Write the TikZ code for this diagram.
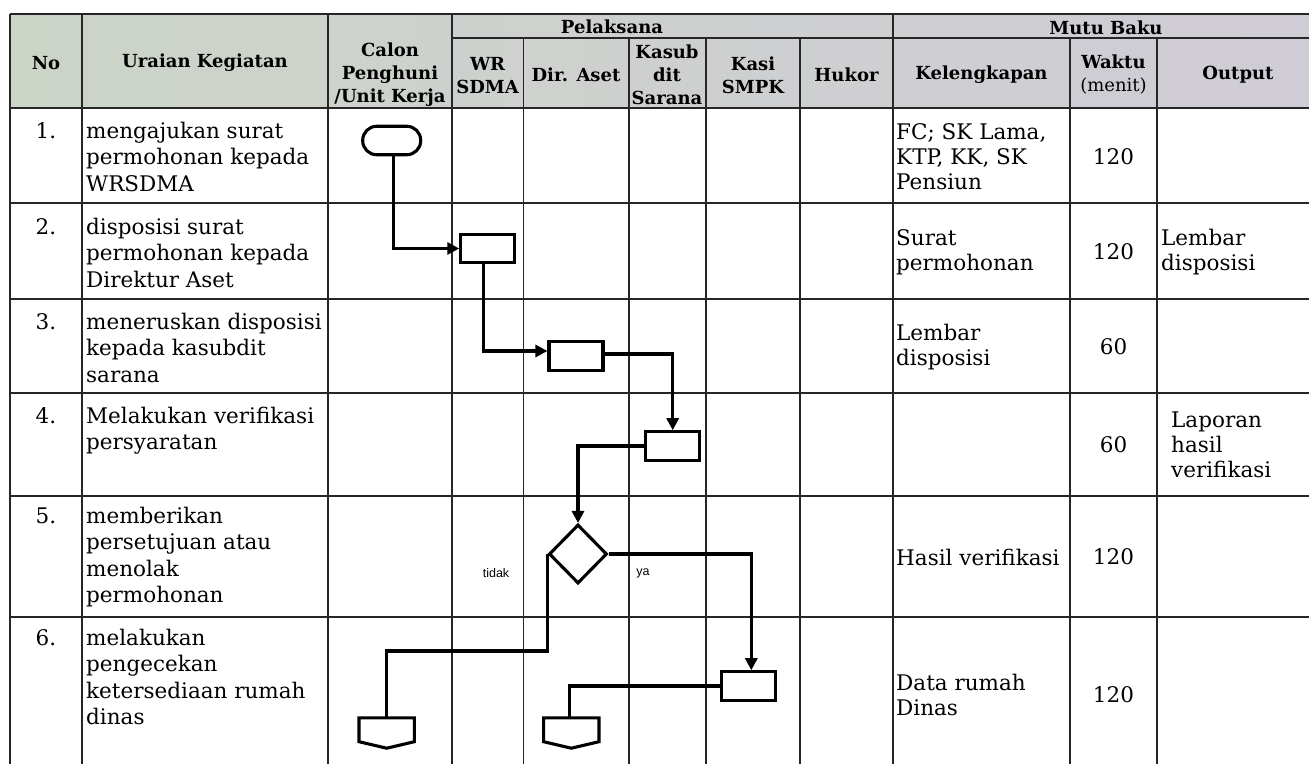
\documentclass[tikz,border=0pt]{standalone}
\usepackage{fontspec}
\setmainfont{DejaVu Serif}
\newfontfamily\labfont{Liberation Sans}
\usetikzlibrary{arrows.meta,shapes.geometric,calc}
\definecolor{hdA}{RGB}{204,212,200}
\definecolor{hdB}{RGB}{216,200,218}
\definecolor{hdC}{RGB}{208,204,214}
\begin{document}
\begin{tikzpicture}[x=1pt,y=-1pt,
  gridl/.style={line width=1.6pt, draw=black!85},
  hd/.style={font=\bfseries\fontsize{18}{23}\selectfont, align=center, inner sep=0pt},
  bodytxt/.style={font=\fontsize{21.5}{26.5}\selectfont, align=left, inner sep=0pt, anchor=base west},
  midtxt/.style={font=\fontsize{21.5}{25}\selectfont, align=left, inner sep=0pt, anchor=west},
  numtxt/.style={font=\fontsize{21.5}{26.5}\selectfont, inner sep=0pt, anchor=base},
  ctrtxt/.style={font=\fontsize{21.5}{25}\selectfont, inner sep=0pt, anchor=center},
  proc/.style={draw, fill=white, line width=3.1pt, minimum width=54pt, minimum height=28.5pt, inner sep=0pt},
  term/.style={proc, rounded corners=14pt, minimum width=58pt},
  dec/.style={draw, fill=white, diamond, line width=3.1pt, minimum width=58pt, minimum height=59pt, inner sep=0pt},
  offp/.style={minimum width=55pt, minimum height=30pt, inner sep=0pt},
  flow/.style={line width=3.1pt, line join=miter},
  arr/.style={flow, -{Triangle[length=12pt,width=12pt]}},
  lbl/.style={font=\labfont\fontsize{12.5}{14}\selectfont, inner sep=0pt}
]
\useasboundingbox (0,0) rectangle (1309,763);
\begin{scope}
\clip (0,0) rectangle (1309,763);
% header shading
\shade[left color=hdA, middle color=hdB, right color=hdC] (10,14) rectangle (1319,108);
% horizontal lines
\foreach \yy in {14,108,203,299,393,496,617,773}
  \draw[gridl] (10,\yy) -- (1319,\yy);
\draw[gridl] (451.7,37.7) -- (1319,37.7);
\draw[gridl, line width=2pt] (10,108) -- (1319,108);
% vertical lines
\foreach \xx in {10,81.7,328,451.7,893,1319}
  \draw[gridl] (\xx,14) -- (\xx,773);
\foreach \xx in {523.5,629,705.7,800,1070,1157}
  \draw[gridl] (\xx,37.7) -- (\xx,773);
\end{scope}

% header texts
\node[hd] (hNo) at (46,63) {No};
\node[hd] (hUr) at (205,63) {Uraian Kegiatan};
\node[hd] (hPel) at (612,26.5) {Pelaksana};
\node[hd] (hMutu) at (1106,27.5) {Mutu Baku};
\node[hd] (hCal) at (390,74.5) {Calon\\Penghuni\\/Unit Kerja};
\node[hd] (hWR) at (487.6,75.3) {WR\\SDMA};
\node[hd] (hDir) at (576,75) {Dir. Aset};
\node[hd] (hKasub) at (667,75) {Kasub\\dit\\Sarana};
\node[hd] (hKasi) at (753,75) {Kasi\\SMPK};
\node[hd] (hHuk) at (846.5,75) {Hukor};
\node[hd] (hKel) at (981.5,75) {Kelengkapan};
\node[hd] (hWak) at (1113.5,75) {Waktu\\{\mdseries\fontsize{18}{23}\selectfont (menit)}};
\node[hd] (hOut) at (1238,75) {Output};

% numbers
\node[numtxt] (n1) at (46,138) {1.};
\node[numtxt] (n2) at (46,234) {2.};
\node[numtxt] (n3) at (46,329) {3.};
\node[numtxt] (n4) at (46,423) {4.};
\node[numtxt] (n5) at (46,523) {5.};
\node[numtxt] (n6) at (46,645) {6.};

% uraian (anchor = baseline of last line)
\node[bodytxt] (u1) at (86,191) {mengajukan surat\\permohonan kepada\\WRSDMA};
\node[bodytxt] (u2) at (86,287) {disposisi surat\\permohonan kepada\\Direktur Aset};
\node[bodytxt] (u3) at (86,382) {meneruskan disposisi\\kepada kasubdit\\sarana};
\node[bodytxt] (u4) at (86,449.5) {Melakukan verifikasi\\persyaratan};
\node[bodytxt] (u5) at (86,602.5) {memberikan\\persetujuan atau\\menolak\\permohonan};
\node[bodytxt] (u6) at (86,724.5) {melakukan\\pengecekan\\ketersediaan rumah\\dinas};

% kelengkapan
\node[midtxt] (k1) at (896,157) {FC; SK Lama,\\KTP, KK, SK\\Pensiun};
\node[midtxt] (k2) at (896,252) {Surat\\permohonan};
\node[midtxt] (k3) at (896,347) {Lembar\\disposisi};
\node[midtxt] (k5) at (896,557) {Hasil verifikasi};
\node[midtxt] (k6) at (896,695) {Data rumah\\Dinas};

% waktu
\node[ctrtxt] (w1) at (1113.5,157) {120};
\node[ctrtxt] (w2) at (1113.5,252) {120};
\node[ctrtxt] (w3) at (1113.5,347) {60};
\node[ctrtxt] (w4) at (1113.5,445) {60};
\node[ctrtxt] (w5) at (1113.5,557) {120};
\node[ctrtxt] (w6) at (1113.5,695) {120};

% output
\node[midtxt] (o2t) at (1161,252) {Lembar\\disposisi};
\node[midtxt] (o4t) at (1171,445) {Laporan\\hasil\\verifikasi};

% flowchart nodes
\node[term] (t1) at (391.7,140.5) {};
\node[proc] (b2) at (487.8,248.5) {};
\node[proc] (b3) at (576,356) {};
\node[proc] (b4) at (672.7,446) {};
\node[dec] (d5) at (578,554) {};
\node[proc] (b6) at (748.3,686) {};
\node[offp] (o1) at (386.7,733) {};
\node[offp] (o2) at (571.3,733) {};
\coordinate (tk) at (0,651);

% off-page connectors
\foreach \o in {o1,o2}
  \draw[flow, fill=white] (\o.north west) -- (\o.north east) -- ([yshift=6.5pt]\o.south east) -- (\o.south) -- ([yshift=6.5pt]\o.south west) -- cycle;

% connectors
\draw[arr] ([xshift=2pt]t1.south) |- (b2.west);
\draw[arr] ([xshift=-4pt]b2.south) |- ([yshift=5pt]b3.west);
\draw[arr] ([yshift=2pt]b3.east) -| (b4.north);
\draw[arr] (b4.west) -| (d5.north);
\draw[arr] (d5.east) -| ([xshift=3pt]b6.north);
\draw[flow] (d5.west) -- (d5.west |- tk) -| (o1.north);
\draw[flow] (b6.west) -| ([xshift=-2pt]o2.north);

\node[lbl] (ltidak) at (496,573) {tidak};
\node[lbl] (lya) at (643,573) {ya};
\end{tikzpicture}
\end{document}
